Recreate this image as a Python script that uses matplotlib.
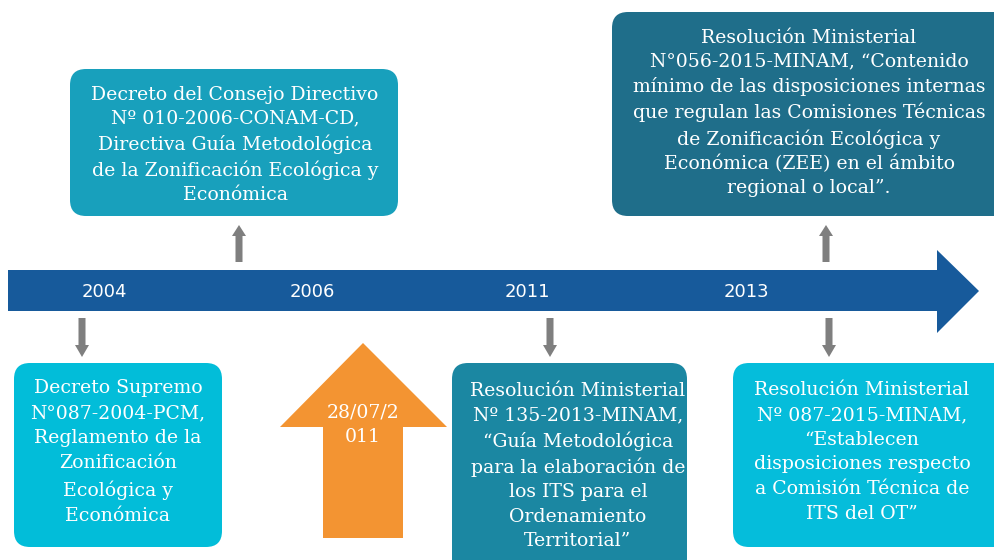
import matplotlib
matplotlib.use("Agg")
import matplotlib.pyplot as plt
from matplotlib.patches import FancyBboxPatch, Polygon

# ---- content ----
years = ["2004", "2006", "2011", "2013"]
box_texts = [
    "Decreto del Consejo Directivo\nNº 010-2006-CONAM-CD,\nDirectiva Guía Metodológica\nde la Zonificación Ecológica y\nEconómica",
    "Resolución Ministerial\nN°056-2015-MINAM, “Contenido\nmínimo de las disposiciones internas\nque regulan las Comisiones Técnicas\nde Zonificación Ecológica y\nEconómica (ZEE) en el ámbito\nregional o local”.",
    "Decreto Supremo\nN°087-2004-PCM,\nReglamento de la\nZonificación\nEcológica y\nEconómica",
    "Resolución Ministerial\nNº 135-2013-MINAM,\n“Guía Metodológica\npara la elaboración de\nlos ITS para el\nOrdenamiento\nTerritorial”",
    "Resolución Ministerial\nNº 087-2015-MINAM,\n“Establecen\ndisposiciones respecto\na Comisión Técnica de\nITS del OT”",
]
date_text = "28/07/2\n011"

# ---- layout (pixels) ----
W, H = 995, 560
year_x = [104, 312, 527, 746]
boxes = [
    (70, 69, 398, 216, "#18a0bc"),
    (612, 12, 1010, 216, "#1f6e8a"),
    (14, 363, 222, 547, "#02bdd9"),
    (452, 363, 687, 575, "#1b87a2"),
    (733, 363, 1010, 547, "#05bddb"),
]
text_pos = [(235, 145), (809, 113), (118, 452), (578, 466), (862, 452)]
line_sp = [1.43, 1.43, 1.52, 1.45, 1.48]
up_arrows = [239, 826]
down_arrows = [82, 550, 829]
FS = 13.6

fig = plt.figure(figsize=(W / 100, H / 100), dpi=100)
ax = fig.add_axes([0, 0, 1, 1])
ax.set_xlim(0, W)
ax.set_ylim(H, 0)
ax.axis("off")

# timeline arrow
tl = Polygon([(8, 270), (937, 270), (937, 250), (979, 291), (937, 333),
              (937, 311), (8, 311)], closed=True, color="#175a9b", lw=0)
ax.add_patch(tl)
for x, y in zip(year_x, years):
    ax.text(x, 292, y, color="white", fontsize=13, ha="center", va="center",
            family=["Liberation Sans Narrow", "DejaVu Sans"])

gray = "#7f7f7f"
for x in up_arrows:
    ax.add_patch(Polygon([(x - 3.5, 262), (x - 3.5, 236), (x - 7, 236), (x, 225),
                          (x + 7, 236), (x + 3.5, 236), (x + 3.5, 262)],
                         closed=True, color=gray, lw=0))
for x in down_arrows:
    ax.add_patch(Polygon([(x - 3.5, 318), (x - 3.5, 345), (x - 7, 345), (x, 357),
                          (x + 7, 345), (x + 3.5, 345), (x + 3.5, 318)],
                         closed=True, color=gray, lw=0))

for (x0, y0, x1, y1, c), (tx, ty), t, ls in zip(boxes, text_pos, box_texts, line_sp):
    p = FancyBboxPatch((x0 + 16, y0 + 16), (x1 - x0) - 32, (y1 - y0) - 32,
                       boxstyle="round,pad=16", color=c, lw=0)
    ax.add_patch(p)
    ax.text(tx, ty, t, color="white", fontsize=FS, ha="center", va="center",
            family="DejaVu Serif", linespacing=ls)

# orange arrow
ax.add_patch(Polygon([(323, 538), (323, 427), (280, 427), (363, 343), (447, 427),
                      (403, 427), (403, 538)], closed=True, color="#f39432", lw=0))
ax.text(363, 425, date_text, color="white", fontsize=FS, ha="center", va="center",
        family="DejaVu Serif", linespacing=1.43)

fig.savefig("out.png", dpi=100)
